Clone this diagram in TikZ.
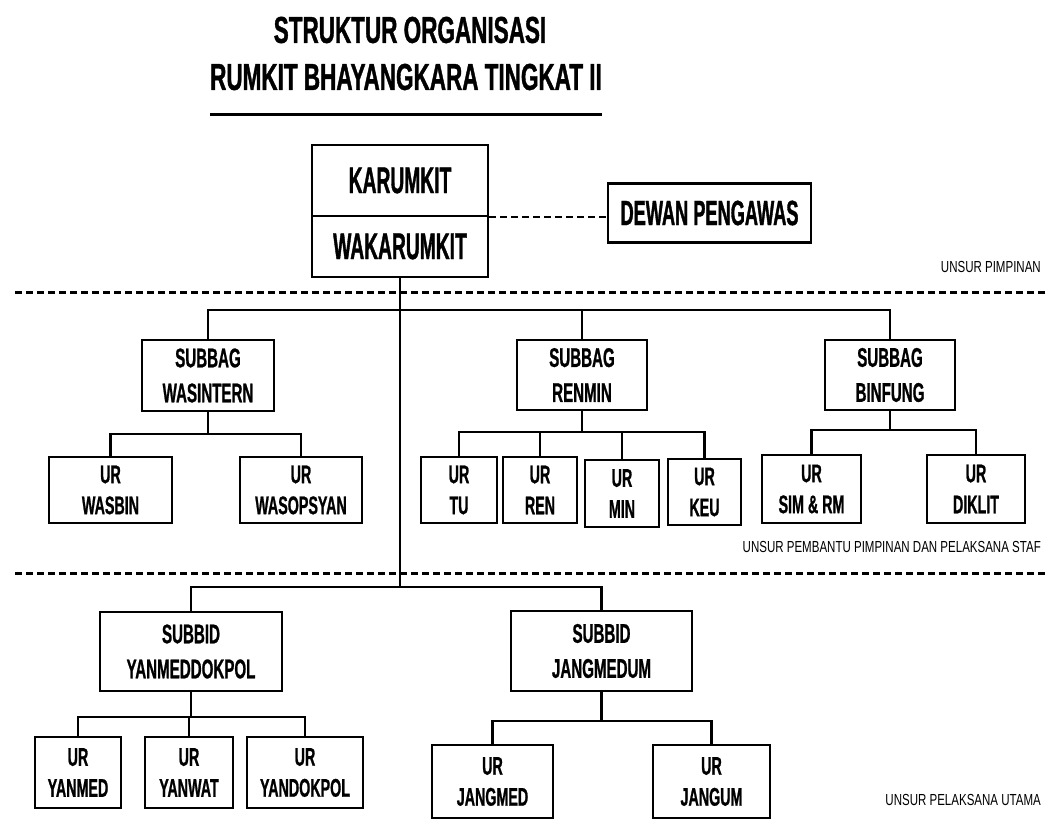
\documentclass[tikz,border=0pt]{standalone}
\usepackage{fontspec}
\setmainfont{Liberation Sans}
\newfontfamily\titlef{Liberation Sans}[FakeStretch=0.6, FakeBold=1]
\newfontfamily\bigf{Liberation Sans}[FakeStretch=0.52, FakeBold=1]
\newfontfamily\midf{Liberation Sans}[FakeStretch=0.56, FakeBold=0.8]
\newfontfamily\labf{Liberation Sans}[FakeStretch=0.72]
\begin{document}
\begin{tikzpicture}[x=1pt,y=-1pt,
  box/.style={draw, line width=2.6pt, inner sep=0pt, align=center},
  bigtext/.style={font=\bigf\bfseries\fontsize{37}{38}\selectfont},
  midtext/.style={font=\midf\bfseries\fontsize{27}{35}\selectfont},
  urtext/.style={font=\midf\bfseries\fontsize{25.5}{31}\selectfont},
  labtext/.style={font=\labf\fontsize{16}{16}\selectfont, inner sep=0pt, anchor=east},
  titletext/.style={font=\titlef\bfseries\fontsize{37.5}{38}\selectfont, inner sep=0pt},
  conn/.style={line width=2.3pt},
  sepline/.style={line width=3pt, dash pattern=on 7pt off 4pt},
  dashconn/.style={line width=2pt, dash pattern=on 7pt off 4pt}]
\useasboundingbox[fill=white] (0,0) rectangle (1047,826);

% title
\node[titletext] (t1) at (410,30) {STRUKTUR ORGANISASI};
\node[titletext] (t2) at (406,77) {RUMKIT BHAYANGKARA TINGKAT II};
\draw[line width=3.5pt] ([yshift=-24pt]t2.south west) -- ([yshift=-24pt]t2.south east);

% top
\node[box,bigtext,minimum width=176pt,minimum height=71pt] (kar) at (400,180.5) {KARUMKIT};
\node[box,bigtext,minimum width=176pt,minimum height=61pt] (wakar) at (400,246.5) {WAKARUMKIT};
\node[box,bigtext,font=\bigf\bfseries\fontsize{35}{36}\selectfont,minimum width=203pt,minimum height=59pt] (dewan) at (709.5,213) {DEWAN PENGAWAS};
\draw[dashconn] (kar.south east) -- (kar.south east -| dewan.west);

% separators
\coordinate (s1a) at (15,293);
\coordinate (s1b) at (1047,293);
\coordinate (s2a) at (15,573);
\coordinate (s2b) at (1047,573);
\draw[sepline] (s1a) -- (s1b);
\draw[sepline] (s2a) -- (s2b);

\node[labtext] (l1) at (1041,267) {UNSUR PIMPINAN};
\node[labtext] (l2) at (1041,547) {UNSUR PEMBANTU PIMPINAN DAN PELAKSANA STAF};
\node[labtext] (l3) at (1041,800) {UNSUR PELAKSANA UTAMA};

% level 2
\node[box,midtext,minimum width=132pt,minimum height=71pt] (wasintern) at (208,375.5) {SUBBAG\\WASINTERN};
\node[box,midtext,minimum width=130pt,minimum height=70pt] (renmin) at (582,375) {SUBBAG\\RENMIN};
\node[box,midtext,minimum width=130pt,minimum height=70pt] (binfung) at (890,375) {SUBBAG\\BINFUNG};

% level 3
\node[box,urtext,minimum width=123pt,minimum height=66pt] (wasbin) at (110.5,490) {UR\\WASBIN};
\node[box,urtext,minimum width=122pt,minimum height=66pt] (wasopsyan) at (301,490) {UR\\WASOPSYAN};
\node[box,urtext,minimum width=76pt,minimum height=66pt] (tu) at (459,490) {UR\\TU};
\node[box,urtext,minimum width=74pt,minimum height=66pt] (ren) at (540,490) {UR\\REN};
\node[box,urtext,minimum width=74pt,minimum height=67pt] (min) at (622,493.5) {UR\\MIN};
\node[box,urtext,minimum width=73pt,minimum height=66pt] (keu) at (704.5,492) {UR\\KEU};
\node[box,urtext,minimum width=99pt,minimum height=68pt] (simrm) at (811.5,489) {UR\\SIM \& RM};
\node[box,urtext,minimum width=98pt,minimum height=68pt] (diklit) at (976,489) {UR\\DIKLIT};

% subbid
\node[box,midtext,minimum width=182pt,minimum height=79pt] (yanmeddokpol) at (191,651.5) {SUBBID\\YANMEDDOKPOL};
\node[box,midtext,minimum width=181pt,minimum height=80pt] (jangmedum) at (601.5,651) {SUBBID\\JANGMEDUM};

\node[box,urtext,minimum width=86pt,minimum height=71pt] (yanmed) at (78,772.5) {UR\\YANMED};
\node[box,urtext,minimum width=88pt,minimum height=71pt] (yanwat) at (189,772.5) {UR\\YANWAT};
\node[box,urtext,minimum width=116pt,minimum height=71pt] (yandokpol) at (305,772.5) {UR\\YANDOKPOL};
\node[box,urtext,minimum width=121pt,minimum height=73pt] (jangmed) at (492.5,781.5) {UR\\JANGMED};
\node[box,urtext,minimum width=117pt,minimum height=73pt] (jangum) at (711.5,781.5) {UR\\JANGUM};

% bus coordinates
\coordinate (b1) at (400,310);
\coordinate (bw) at (208,434);
\coordinate (br) at (582,432);
\coordinate (bb) at (890,430);
\coordinate (b3) at (400,587);
\coordinate (by) at (191,717);
\coordinate (bj) at (601.5,721);

% connectors
\draw[conn] (wakar.south) -- (b3);
\draw[conn] (b1) -| (wasintern.north);
\draw[conn] (b1) -| (renmin.north);
\draw[conn] (b1) -| (binfung.north);

\draw[conn] (wasintern.south) -- (bw);
\draw[conn] (bw) -| (wasbin.north);
\draw[conn] (bw) -| (wasopsyan.north);

\draw[conn] (renmin.south) -- (br);
\draw[conn] (br) -| (tu.north);
\draw[conn] (br) -| (ren.north);
\draw[conn] (br) -| (min.north);
\draw[conn] (br) -| (keu.north);

\draw[conn] (binfung.south) -- (bb);
\draw[conn] (bb) -| (simrm.north);
\draw[conn] (bb) -| (diklit.north);

\draw[conn] (b3) -| (yanmeddokpol.north);
\draw[conn] (b3) -| (jangmedum.north);

\draw[conn] (yanmeddokpol.south) -- (by);
\draw[conn] (by) -| (yanmed.north);
\draw[conn] (by) -| (yanwat.north);
\draw[conn] (by) -| (yandokpol.north);

\draw[conn] (jangmedum.south) -- (bj);
\draw[conn] (bj) -| (jangmed.north);
\draw[conn] (bj) -| (jangum.north);
\end{tikzpicture}
\end{document}
